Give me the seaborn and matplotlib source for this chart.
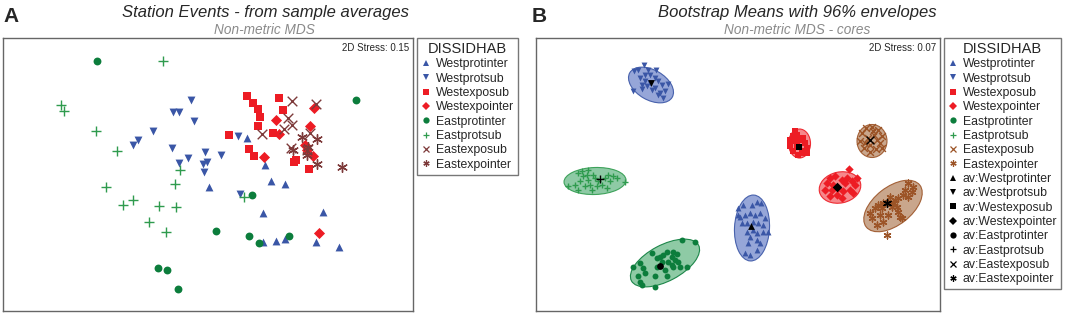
import pandas as pd
import seaborn as sns
import matplotlib.pyplot as plt
from matplotlib.lines import Line2D
from matplotlib.patches import Ellipse

# groups in legend order
groups = ["Westprotinter", "Westprotsub", "Westexposub", "Westexpointer",
          "Eastprotinter", "Eastprotsub", "Eastexposub", "Eastexpointer"]

# ---- panel A: station events (MDS coords, arbitrary units) ----
a_westprotinter_x = [247, 265, 209, 271, 285, 263, 323, 263, 276, 285, 316, 339]
a_westprotinter_y = [138, 165, 187, 181, 184, 213, 212, 242, 241, 239, 242, 247]
a_westprotsub_x = [191, 173, 179, 194, 153, 138, 133, 172, 238, 205, 221, 188, 179, 207, 203, 204, 240]
a_westprotsub_y = [100, 112, 112, 121, 131, 140, 145, 148, 136, 152, 155, 158, 163, 162, 164, 172, 194]
a_westexposub_x = [247, 253, 258, 260, 258, 229, 249, 254, 279, 283, 273, 296, 294, 309]
a_westexposub_y = [96, 103, 109, 117, 126, 135, 149, 156, 98, 110, 133, 160, 162, 169]
a_westexpointer_x = [314, 276, 279, 310, 264, 305, 307, 313, 319]
a_westexpointer_y = [108, 120, 134, 126, 157, 145, 150, 156, 233]
a_eastprotinter_x = [97, 356, 252, 216, 249, 259, 289, 158, 167, 178]
a_eastprotinter_y = [61, 100, 195, 231, 236, 243, 236, 268, 270, 289]
a_eastprotsub_x = [163, 61, 64, 96, 117, 180, 175, 106, 133, 123, 159, 176, 149, 166, 244]
a_eastprotsub_y = [61, 105, 111, 131, 151, 170, 184, 187, 200, 205, 206, 207, 222, 232, 197]
a_eastexposub_x = [292, 316, 288, 292, 284, 262, 310, 291, 307]
a_eastexposub_y = [101, 104, 118, 125, 129, 134, 133, 148, 150]
a_eastexpointer_x = [302, 317, 308, 307, 317, 342, 293]
a_eastexpointer_y = [137, 139, 147, 155, 164, 167, 150]

# ---- panel B: bootstrap means ----
b_westprotinter_x = [738, 743, 752, 757, 761, 740, 745, 750, 755, 760, 742, 747, 753, 758, 763,
                     768, 763, 747, 753, 757, 750, 757, 760, 748, 745, 750, 757, 738, 765]
b_westprotinter_y = [208, 205, 205, 202, 203, 217, 215, 213, 215, 213, 223, 223, 222, 223, 225,
                     232, 232, 232, 230, 233, 237, 240, 243, 243, 253, 255, 250, 215, 218]
b_westprotsub_x = [634, 638, 644, 648, 656, 650, 645, 640, 645, 650, 642, 647, 655, 658, 655,
                   662, 665, 660, 652, 633, 642, 668, 663, 658]
b_westprotsub_y = [71, 70, 65, 70, 70, 75, 75, 78, 81, 83, 85, 86, 78, 81, 88,
                   85, 91, 93, 90, 91, 89, 84, 98, 95]
b_westexposub_x = [795, 793, 797, 790, 795, 803, 805, 807, 802, 793, 790, 798, 803, 797, 807, 800]
b_westexposub_y = [131, 136, 135, 140, 141, 138, 143, 148, 153, 151, 146, 155, 151, 145, 153, 140]
b_westexpointer_x = [827, 830, 835, 842, 845, 847, 852, 855, 850, 843, 837, 830, 825, 832, 838,
                     853, 842, 849, 833, 857]
b_westexpointer_y = [183, 178, 176, 180, 183, 178, 181, 185, 190, 191, 195, 196, 190, 190, 188,
                     193, 198, 169, 185, 178]
b_eastprotinter_x = [633, 640, 643, 638, 640, 652, 657, 660, 662, 657, 655, 665, 667, 668, 672,
                     673, 677, 675, 672, 678, 680, 673, 682, 695, 687, 667, 663, 645, 655, 642]
b_eastprotinter_y = [267, 263, 268, 276, 282, 253, 258, 257, 262, 267, 276, 270, 276, 262, 257,
                     252, 254, 260, 265, 262, 267, 267, 240, 242, 267, 252, 255, 273, 287, 285]
b_eastprotsub_x = [568, 575, 578, 582, 583, 588, 587, 580, 585, 590, 592, 595, 598, 597, 602,
                   605, 608, 610, 613, 617, 607, 588, 593, 625, 578]
b_eastprotsub_y = [186, 185, 173, 171, 176, 170, 175, 181, 186, 185, 190, 178, 181, 186, 185,
                   178, 175, 181, 176, 178, 188, 180, 175, 182, 190]
b_eastexposub_x = [862, 866, 872, 878, 882, 880, 876, 870, 864, 860, 868, 874, 870, 877, 865, 873, 882]
b_eastexposub_y = [133, 128, 127, 130, 136, 143, 149, 152, 148, 141, 138, 135, 145, 140, 143, 131, 148]
b_eastexpointer_x = [908, 913, 905, 912, 903, 908, 898, 895, 893, 888, 883, 878, 875, 882, 897,
                     898, 900, 902, 888, 880, 870, 872, 883, 877, 887, 890, 892]
b_eastexpointer_y = [183, 187, 190, 192, 195, 197, 198, 200, 203, 202, 203, 205, 208, 208, 207,
                     212, 217, 218, 215, 215, 213, 218, 222, 225, 235, 197, 207]

# group averages (black markers)
av_x = [751, 651, 799, 837, 660, 600, 870, 887]
av_y = [226, 83, 147, 187, 266, 179, 140, 203]

# 96% envelopes: centre, width, height, angle
env_cx = [752, 651, 799.5, 840, 665, 595, 872, 893]
env_cy = [228, 85, 143.5, 187.5, 263, 181, 141, 206]
env_w = [35, 49, 22, 42, 76, 62, 30, 68]
env_h = [66, 30, 29, 31, 36, 27, 33, 38]
env_ang = [3, 30, 0, -12, -28, -2, 0, -38]

df_a = pd.concat([pd.DataFrame({"x": x, "y": y, "grp": g}) for g, x, y in zip(groups,
    [a_westprotinter_x, a_westprotsub_x, a_westexposub_x, a_westexpointer_x,
     a_eastprotinter_x, a_eastprotsub_x, a_eastexposub_x, a_eastexpointer_x],
    [a_westprotinter_y, a_westprotsub_y, a_westexposub_y, a_westexpointer_y,
     a_eastprotinter_y, a_eastprotsub_y, a_eastexposub_y, a_eastexpointer_y])])
df_b = pd.concat([pd.DataFrame({"x": x, "y": y, "grp": g}) for g, x, y in zip(groups,
    [b_westprotinter_x, b_westprotsub_x, b_westexposub_x, b_westexpointer_x,
     b_eastprotinter_x, b_eastprotsub_x, b_eastexposub_x, b_eastexpointer_x],
    [b_westprotinter_y, b_westprotsub_y, b_westexposub_y, b_westexpointer_y,
     b_eastprotinter_y, b_eastprotsub_y, b_eastexposub_y, b_eastexpointer_y])])

# styles
asterisk = (6, 2, 0)
markers = ["^", "v", "s", "D", "o", "+", "x", asterisk]
filled = [True, True, True, True, True, False, False, False]
blue, red, green, green2 = "#3a56a6", "#ed1c24", "#0c7d3c", "#2f9b4e"
colors_a = [blue, blue, red, red, green, green2, "#7d3a3a", "#7d3a3a"]
colors_b = [blue, blue, red, red, green, green2, "#9c5427", "#9c5427"]
env_fill = ["#8b9cd4", "#8b9cd4", "#f57a7e", "#f57a7e", "#82c59b", "#82c59b", "#c49c80", "#c49c80"]

sns.set_theme(style="white")
plt.rcParams["font.family"] = ["Liberation Sans", "DejaVu Sans"]

W, H = 1065, 315
fig = plt.figure(figsize=(W / 100, H / 100), dpi=100)


def fx(px):
    return px / W


def fy(py):
    return 1 - py / H


ax_a = fig.add_axes([fx(3), fy(311), fx(413) - fx(3), fy(38) - fy(311)])
ax_b = fig.add_axes([fx(536), fy(311), fx(940) - fx(536), fy(38) - fy(311)])


def draw_points(ax, df, colors, s_fill, s_line):
    for g, m, f, c in zip(groups, markers, filled, colors):
        d = df[df.grp == g]
        if f:
            sns.scatterplot(data=d, x="x", y="y", ax=ax, marker=m, color=c,
                            s=s_fill, linewidth=0, zorder=3)
        else:
            sns.scatterplot(data=d, x="x", y="y", ax=ax, marker=m, color=c,
                            s=s_line, linewidth=1.0, zorder=3)


draw_points(ax_a, df_a, colors_a, 32, 48)

for i in range(len(groups)):
    ax_b.add_patch(Ellipse((env_cx[i], env_cy[i]), env_w[i], env_h[i], angle=env_ang[i],
                           facecolor=env_fill[i], edgecolor=colors_b[i], lw=0.8,
                           alpha=0.9, zorder=2))
draw_points(ax_b, df_b, colors_b, 18, 24)
for i, m in enumerate(markers):
    ax_b.scatter(av_x[i], av_y[i], marker=m, color="black", s=24 if filled[i] else 32,
                 linewidth=0 if filled[i] else 1.0, zorder=4)

for ax, lo, hi in [(ax_a, 3, 413), (ax_b, 536, 940)]:
    ax.set_xlim(lo, hi)
    ax.set_ylim(311, 38)
    ax.set_xticks([])
    ax.set_yticks([])
    ax.set_xlabel("")
    ax.set_ylabel("")
    for sp in ax.spines.values():
        sp.set_color("#666666")
        sp.set_linewidth(1.0)

ax_a.text(0.99, 0.982, "2D Stress: 0.15", transform=ax_a.transAxes, ha="right", va="top", fontsize=7)
ax_b.text(0.99, 0.982, "2D Stress: 0.07", transform=ax_b.transAxes, ha="right", va="top", fontsize=7)


def make_legend(ax, left, top, colors, with_av):
    hs = []
    for g, m, f, c in zip(groups, markers, filled, colors):
        hs.append(Line2D([], [], ls="", marker=m, color=c, markersize=4.5,
                         markeredgewidth=0 if f else 0.9, label=g))
    if with_av:
        for g, m, f in zip(groups, markers, filled):
            hs.append(Line2D([], [], ls="", marker=m, color="black", markersize=4.5,
                             markeredgewidth=0 if f else 0.9, label="av:" + g))
    leg = ax.legend(handles=hs, title="DISSIDHAB", loc="upper left",
                    bbox_to_anchor=(fx(left), fy(top)), bbox_transform=fig.transFigure,
                    fontsize=8.8, title_fontsize=10.5, frameon=True, fancybox=False,
                    edgecolor="#555555", labelspacing=0.19, handlelength=0.8,
                    handletextpad=0.4, borderpad=0.33, borderaxespad=0)
    leg.get_frame().set_linewidth(1.0)
    return leg


make_legend(ax_a, 417, 38, colors_a, False)
make_legend(ax_b, 944, 38, colors_b, True)

fig.text(fx(265), fy(12), "Station Events - from sample averages", ha="center", va="center",
         fontsize=12, style="italic")
fig.text(fx(264), fy(30), "Non-metric MDS", ha="center", va="center",
         fontsize=9.8, style="italic", color="#8a8a8a")
fig.text(fx(797), fy(12), "Bootstrap Means with 96% envelopes", ha="center", va="center",
         fontsize=12, style="italic")
fig.text(fx(797), fy(30), "Non-metric MDS - cores", ha="center", va="center",
         fontsize=9.8, style="italic", color="#8a8a8a")
fig.text(fx(3), fy(17), "A", ha="left", va="center", fontsize=15, fontweight="bold")
fig.text(fx(532), fy(17), "B", ha="left", va="center", fontsize=15, fontweight="bold")

fig.savefig("out.png", dpi=100)
